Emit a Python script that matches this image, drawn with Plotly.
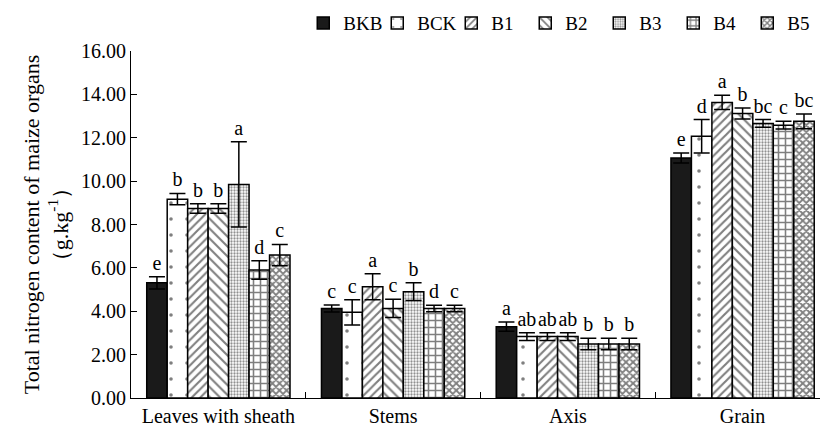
import plotly.graph_objects as go

organs = ["Leaves with sheath", "Stems", "Axis", "Grain"]
series = ["BKB", "BCK", "B1", "B2", "B3", "B4", "B5"]

means = {
    "BKB": [5.31, 4.13, 3.29, 11.07],
    "BCK": [9.17, 3.95, 2.83, 12.07],
    "B1":  [8.74, 5.13, 2.83, 13.63],
    "B2":  [8.74, 4.13, 2.83, 13.12],
    "B3":  [9.85, 4.90, 2.49, 12.66],
    "B4":  [5.90, 4.13, 2.49, 12.58],
    "B5":  [6.59, 4.13, 2.49, 12.76],
}
errors = {
    "BKB": [0.28, 0.16, 0.21, 0.23],
    "BCK": [0.26, 0.58, 0.18, 0.77],
    "B1":  [0.22, 0.60, 0.18, 0.33],
    "B2":  [0.22, 0.42, 0.18, 0.25],
    "B3":  [1.96, 0.41, 0.26, 0.18],
    "B4":  [0.43, 0.15, 0.26, 0.18],
    "B5":  [0.49, 0.15, 0.26, 0.34],
}
letters = {
    "BKB": ["e", "c", "a", "e"],
    "BCK": ["b", "c", "ab", "d"],
    "B1":  ["b", "a", "ab", "a"],
    "B2":  ["b", "c", "ab", "b"],
    "B3":  ["a", "b", "b", "bc"],
    "B4":  ["d", "d", "b", "c"],
    "B5":  ["c", "c", "b", "bc"],
}
y_ticks = [0, 2, 4, 6, 8, 10, 12, 14, 16]

styles = {
    "BKB": dict(color="#1a1a1a", pattern=None),
    "BCK": dict(color="white", pattern=dict(shape=".", fgcolor="black", bgcolor="white", size=16, solidity=0.04)),
    "B1":  dict(color="white", pattern=dict(shape="/", fgcolor="black", bgcolor="white", size=6, solidity=0.35)),
    "B2":  dict(color="white", pattern=dict(shape="\\", fgcolor="black", bgcolor="white", size=7, solidity=0.3)),
    "B3":  dict(color="white", pattern=dict(shape=".", fgcolor="#222", bgcolor="white", size=3, solidity=0.45)),
    "B4":  dict(color="white", pattern=dict(shape="+", fgcolor="black", bgcolor="white", size=7, solidity=0.4)),
    "B5":  dict(color="white", pattern=dict(shape="x", fgcolor="black", bgcolor="white", size=5, solidity=0.6)),
}

FONT = "Liberation Serif, Times New Roman, serif"
fig = go.Figure()

for s in series:
    st = styles[s]
    marker = dict(color=st["color"], line=dict(color="black", width=1.5))
    if st["pattern"]:
        marker["pattern"] = st["pattern"]
    fig.add_trace(go.Bar(
        x=organs, y=means[s], name=s, offsetgroup=s, marker=marker,
        error_y=dict(type="data", array=errors[s], color="black", thickness=1.5, width=8),
    ))
    tops = [m + e for m, e in zip(means[s], errors[s])]
    fig.add_trace(go.Bar(
        x=organs, y=tops, offsetgroup=s, showlegend=False,
        marker=dict(color="rgba(0,0,0,0)", line=dict(width=0)),
        text=letters[s], textposition="outside", constraintext="none",
        cliponaxis=False, textfont=dict(family=FONT, size=20, color="black"),
        hoverinfo="skip",
    ))

fig.update_layout(
    width=821, height=428,
    margin=dict(l=131, r=1, t=51, b=30, autoexpand=False),
    paper_bgcolor="white", plot_bgcolor="white",
    barmode="group", bargap=0.18, bargroupgap=0,
    font=dict(family=FONT, size=20, color="black"),
    legend=dict(orientation="h", x=0.25, y=1.135, xanchor="left", yanchor="top",
                font=dict(family=FONT, size=19), itemwidth=30, tracegroupgap=0,
                entrywidth=29, entrywidthmode="pixels",
                bgcolor="rgba(0,0,0,0)"),
    xaxis=dict(type="category", range=[-0.5, 3.443], tickson="boundaries",
               ticks="inside", ticklen=6, tickcolor="black", showline=True,
               linecolor="black", linewidth=1.2, showgrid=False, tickangle=0,
               tickfont=dict(family=FONT, size=20)),
    yaxis=dict(range=[0, 16], tickvals=y_ticks, tickformat=".2f",
               ticks="inside", ticklen=6, tickcolor="black", showline=True,
               linecolor="black", linewidth=1.2, showgrid=False, zeroline=False,
               tickfont=dict(family=FONT, size=20),
               title=dict(text="Total nitrogen content of maize organs<br>（g.kg<sup>-1</sup>）",
                          font=dict(family=FONT, size=22), standoff=6)),
)

fig.write_html("out.html")
